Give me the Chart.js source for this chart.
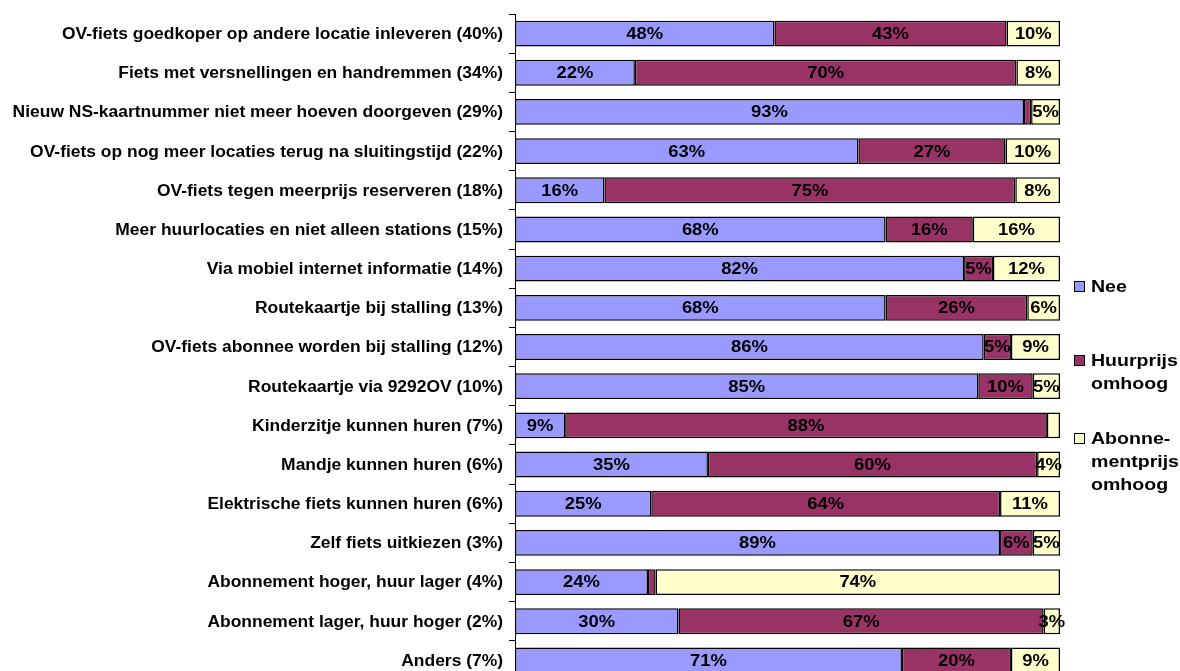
<!DOCTYPE html>
<html>
<head>
<meta charset="utf-8">
<script src="https://cdn.jsdelivr.net/npm/chart.js@4.4.1/dist/chart.umd.min.js"></script>
<style>
  html, body { margin: 0; padding: 0; background: #fff; overflow: hidden; }
  canvas { display: block; }
</style>
</head>
<body>
<canvas id="chart" width="1180" height="680"></canvas>
<script>
const categories = [
  "OV-fiets goedkoper op andere locatie inleveren (40%)",
  "Fiets met versnellingen en handremmen (34%)",
  "Nieuw NS-kaartnummer niet meer hoeven doorgeven (29%)",
  "OV-fiets op nog meer locaties terug na sluitingstijd (22%)",
  "OV-fiets tegen meerprijs reserveren (18%)",
  "Meer huurlocaties en niet alleen stations (15%)",
  "Via mobiel internet informatie (14%)",
  "Routekaartje bij stalling (13%)",
  "OV-fiets abonnee worden bij stalling (12%)",
  "Routekaartje via 9292OV (10%)",
  "Kinderzitje kunnen huren (7%)",
  "Mandje kunnen huren (6%)",
  "Elektrische fiets kunnen huren (6%)",
  "Zelf fiets uitkiezen (3%)",
  "Abonnement hoger, huur lager (4%)",
  "Abonnement lager, huur hoger (2%)",
  "Anders (7%)"
];

// shares per answer, in percent of each row
const nee        = [47.6, 22, 93.4, 63, 16.4, 68, 82.4, 68, 86, 85, 9.2, 35.4, 25, 89, 24.4, 30, 71];
const huurprijs  = [42.6, 70, 1.3, 27, 75.4, 16, 5.3, 26, 5, 10, 88.4, 60.4, 64, 6, 1.4, 67, 20];
const abonnement = [9.8, 8, 5.3, 10, 8.2, 16, 12.3, 6, 9, 5, 2.4, 4.2, 11, 5, 74.2, 3, 9];

const seriesLabels = [["Nee"], ["Huurprijs", "omhoog"], ["Abonne-", "mentprijs", "omhoog"]];
const seriesColors = ["#9999FF", "#993366", "#FFFFCC"];

const FAMILY = "'Liberation Sans', Arial, sans-serif";

// bold text, slightly widened
function wideText(ctx, text, x, y, size, stretch, align) {
  ctx.save();
  ctx.font = "bold " + size + "px " + FAMILY;
  ctx.textAlign = align;
  ctx.textBaseline = "middle";
  ctx.fillStyle = "#000";
  ctx.translate(x, y);
  ctx.scale(stretch, 1);
  ctx.fillText(text, 0, 0);
  ctx.restore();
}

// category names left of the axis
const categoryLabels = {
  id: "categoryLabels",
  afterDraw(chart) {
    const y = chart.scales.y;
    chart.data.labels.forEach((label, i) => {
      wideText(chart.ctx, label, y.right - 12, y.getPixelForTick(i) + 1, 16, 1.09, "right");
    });
  }
};

// percentage text in the middle of each segment
const segmentLabels = {
  id: "segmentLabels",
  afterDatasetsDraw(chart) {
    chart.data.datasets.forEach((ds, di) => {
      chart.getDatasetMeta(di).data.forEach((bar, i) => {
        const v = Math.round(ds.data[i]);
        if (v < 3) return;
        const p = bar.getProps(["x", "base", "y"], true);
        wideText(chart.ctx, v + "%", (p.x + p.base) / 2, p.y + 1, 16, 1.15, "center");
      });
    });
  }
};

// legend on the right with wrapped names
const sideLegend = {
  id: "sideLegend",
  afterDraw(chart) {
    const ctx = chart.ctx;
    const rows = [287, 361, 439];
    chart.data.datasets.forEach((ds, di) => {
      const y = rows[di];
      ctx.save();
      ctx.fillStyle = ds.backgroundColor;
      ctx.fillRect(1074.5, y - 5.5, 10, 10);
      ctx.strokeStyle = "#000";
      ctx.lineWidth = 1;
      ctx.strokeRect(1074.5, y - 5.5, 10, 10);
      ctx.restore();
      seriesLabels[di].forEach((line, li) => {
        wideText(ctx, line, 1091, y + li * 23, 17, 1.15, "left");
      });
    });
  }
};

const datasets = [nee, huurprijs, abonnement].map((values, i) => ({
  label: seriesLabels[i].join(" "),
  data: values,
  backgroundColor: seriesColors[i],
  borderColor: "#000",
  borderWidth: 1.5,
  borderSkipped: false,
  barPercentage: 0.66,
  categoryPercentage: 1
}));

new Chart(document.getElementById("chart"), {
  type: "bar",
  data: { labels: categories, datasets: datasets },
  options: {
    indexAxis: "y",
    responsive: false,
    animation: false,
    layout: { padding: { top: 14, right: 120, bottom: 0, left: 0 } },
    plugins: {
      legend: { display: false },
      tooltip: { enabled: false }
    },
    scales: {
      x: { stacked: true, min: 0, max: 100, display: false },
      y: {
        stacked: true,
        grid: { drawOnChartArea: false, tickLength: 6, color: "#000", offset: true },
        border: { color: "#000", width: 1 },
        ticks: { display: false },
        afterFit(scale) { scale.width = 515; }
      }
    }
  },
  plugins: [segmentLabels, categoryLabels, sideLegend]
});
</script>
</body>
</html>
